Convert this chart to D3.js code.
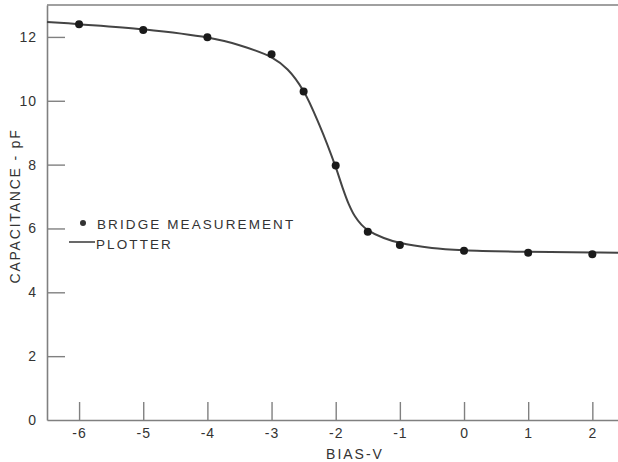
<!DOCTYPE html>
<html><head><meta charset="utf-8">
<script src="https://cdn.jsdelivr.net/npm/d3@7"></script>
<style>
body{margin:0;background:#fff;}
svg text{font-family:"Liberation Sans",Arial,sans-serif;fill:#333;}
</style></head>
<body><svg id="c" width="618" height="462"></svg>
<script>
// Measured points (bridge measurement)
const biasPoints = [-6, -5, -4, -3, -2.5, -2, -1.5, -1, 0, 1, 2];
const capPoints  = [12.40, 12.22, 11.99, 11.46, 10.29, 7.97, 5.90, 5.48, 5.30, 5.24, 5.19];
// Plotter curve
const biasCurve = [-6.5, -6, -5, -4, -3.5, -3, -2.75, -2.5, -2.25, -2, -1.9, -1.8, -1.7, -1.6, -1.5, -1.25, -1, -0.5, 0, 1, 2, 2.4];
const capCurve  = [12.47, 12.40, 12.24, 11.98, 11.74, 11.36, 10.98, 10.30, 9.22, 7.92, 7.32, 6.78, 6.38, 6.12, 5.95, 5.70, 5.55, 5.39, 5.32, 5.27, 5.25, 5.24];
const xTicks = [-6, -5, -4, -3, -2, -1, 0, 1, 2];
const yTicks = [0, 2, 4, 6, 8, 10, 12];

const svg = d3.select("#c");
const x = d3.scaleLinear().domain([-6.5, 2.4]).range([47, 618]);
const y = d3.scaleLinear().domain([0, 13]).range([420, 5]);
const axisColor = "#808080";

// x axis
const gx = svg.append("g").attr("transform", "translate(0,420)")
  .call(d3.axisBottom(x).tickValues(xTicks).tickFormat(d => String(d)).tickSize(-18).tickSizeOuter(0).tickPadding(8));
// y axis
const gy = svg.append("g").attr("transform", "translate(47,0)")
  .call(d3.axisLeft(y).tickValues(yTicks).tickFormat(d => String(d)).tickSize(-18).tickSizeOuter(0).tickPadding(10));
[gx, gy].forEach(g => {
  g.select(".domain").attr("stroke", axisColor).attr("stroke-width", 1.6);
  g.selectAll(".tick line").attr("stroke", axisColor).attr("stroke-width", 1.4);
  g.selectAll(".tick text").attr("font-size", 14).attr("fill", "#333").attr("letter-spacing", 1)
   .attr("font-family", '"Liberation Sans",Arial,sans-serif');
});
gy.selectAll(".tick").filter(d => d === 0).select("line").remove();

// top border
svg.append("line").attr("x1", x(-6.5)).attr("x2", x(2.4)).attr("y1", y(13)).attr("y2", y(13))
  .attr("stroke", axisColor).attr("stroke-width", 1.6);

// curve
const line = d3.line().x(d => x(d[0])).y(d => y(d[1])).curve(d3.curveCatmullRom.alpha(0.5));
svg.append("path").datum(biasCurve.map((b, i) => [b, capCurve[i]]))
  .attr("d", line).attr("fill", "none").attr("stroke", "#444").attr("stroke-width", 2);

// points
svg.append("g").selectAll("circle").data(biasPoints.map((b, i) => [b, capPoints[i]]))
  .join("circle").attr("cx", d => x(d[0])).attr("cy", d => y(d[1])).attr("r", 4).attr("fill", "#1a1a1a");

// legend
svg.append("circle").attr("cx", 83).attr("cy", 223).attr("r", 3).attr("fill", "#333");
svg.append("text").attr("x", 97).attr("y", 228.5).attr("font-size", 13.5).attr("letter-spacing", 2.1)
  .text("BRIDGE MEASUREMENT");
svg.append("line").attr("x1", 69).attr("x2", 95).attr("y1", 242).attr("y2", 242).attr("stroke", "#444").attr("stroke-width", 1.6);
svg.append("text").attr("x", 96).attr("y", 248.5).attr("font-size", 13.5).attr("letter-spacing", 2.1)
  .text("PLOTTER");

// axis titles
svg.append("text").attr("x", 355).attr("y", 459).attr("text-anchor", "middle").attr("font-size", 14)
  .attr("letter-spacing", 2).text("BIAS-V");
svg.append("text").attr("transform", "translate(20,206) rotate(-90)").attr("text-anchor", "middle")
  .attr("font-size", 14).attr("letter-spacing", 1.8).text("CAPACITANCE - pF");
</script></body></html>
